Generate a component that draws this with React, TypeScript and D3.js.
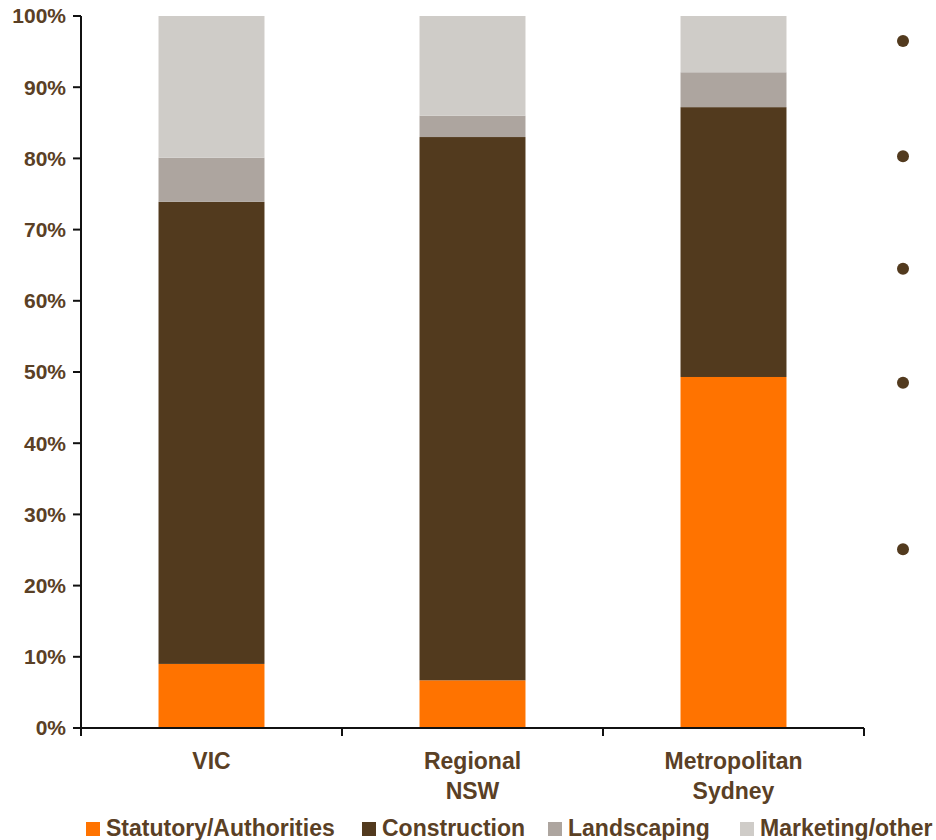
import React, { useEffect, useRef } from "react";
import * as d3 from "d3";

const categories = [["VIC"], ["Regional", "NSW"], ["Metropolitan", "Sydney"]];
const seriesNames = ["Statutory/Authorities", "Construction", "Landscaping", "Marketing/other"];
const seriesColors = ["#ff7300", "#523a1e", "#ada59f", "#cfccc8"];
const statutory = [9.0, 6.7, 49.3];
const construction = [64.9, 76.3, 37.9];
const landscaping = [6.2, 3.0, 4.9];
const marketing = [19.9, 14.0, 7.9];
const yTicks = [0, 10, 20, 30, 40, 50, 60, 70, 80, 90, 100];
// stray bullet dots on the right edge of the original slide
const bulletDots = [96.5, 80.3, 64.5, 48.5, 25.1];

const textColor = "#5a4025";
const font = "'Liberation Sans', Arial, sans-serif";

const App = () => {
    const ref = useRef<SVGSVGElement>(null);

    useEffect(() => {
        const svg = d3.select(ref.current);
        svg.selectAll("*").remove();

        const left = 81, right = 864, top = 16, bottom = 728;

        const x = d3.scaleBand<number>()
            .domain([0, 1, 2])
            .range([left, right])
            .paddingInner(0.594)
            .paddingOuter(0.297);

        const y = d3.scaleLinear().domain([0, 100]).range([bottom, top]);

        const rows = categories.map((c, i) => ({
            key: i,
            s0: statutory[i],
            s1: construction[i],
            s2: landscaping[i],
            s3: marketing[i],
        }));
        const stack = d3.stack<any>().keys(["s0", "s1", "s2", "s3"]);
        const layers = stack(rows);

        const g = svg.append("g");
        layers.forEach((layer, li) => {
            g.selectAll(null)
                .data(layer)
                .enter()
                .append("rect")
                .attr("x", (d: any) => x(d.data.key)!)
                .attr("width", x.bandwidth())
                .attr("y", d => y(d[1]))
                .attr("height", d => y(d[0]) - y(d[1]))
                .attr("fill", seriesColors[li]);
        });

        // y axis
        svg.append("line")
            .attr("x1", left).attr("x2", left)
            .attr("y1", top).attr("y2", bottom)
            .attr("stroke", "#111").attr("stroke-width", 2);
        yTicks.forEach(t => {
            svg.append("line")
                .attr("x1", left - 8).attr("x2", left)
                .attr("y1", y(t)).attr("y2", y(t))
                .attr("stroke", "#111").attr("stroke-width", 2);
            svg.append("text")
                .attr("x", left - 15)
                .attr("y", y(t))
                .attr("dy", "0.35em")
                .attr("text-anchor", "end")
                .attr("font-family", font)
                .attr("font-weight", "bold")
                .attr("font-size", 21)
                .attr("fill", textColor)
                .text(t + "%");
        });

        // x axis
        svg.append("line")
            .attr("x1", left - 8).attr("x2", right)
            .attr("y1", bottom).attr("y2", bottom)
            .attr("stroke", "#111").attr("stroke-width", 2);
        const step = x.step();
        d3.range(4).forEach(i => {
            const xx = left + i * step;
            svg.append("line")
                .attr("x1", xx).attr("x2", xx)
                .attr("y1", bottom).attr("y2", bottom + 8)
                .attr("stroke", "#111").attr("stroke-width", 2);
        });

        categories.forEach((lines, i) => {
            const cx = x(i)! + x.bandwidth() / 2;
            lines.forEach((ln, j) => {
                svg.append("text")
                    .attr("x", cx)
                    .attr("y", 769 + j * 30)
                    .attr("text-anchor", "middle")
                    .attr("font-family", font)
                    .attr("font-weight", "bold")
                    .attr("font-size", 23)
                    .attr("fill", textColor)
                    .text(ln);
            });
        });

        // bullet dots
        svg.selectAll(null)
            .data(bulletDots)
            .enter()
            .append("circle")
            .attr("cx", 903)
            .attr("cy", d => y(d))
            .attr("r", 6)
            .attr("fill", "#523a1e");

        // legend
        const legendX = [86, 362, 548, 740];
        seriesNames.forEach((name, i) => {
            svg.append("rect")
                .attr("x", legendX[i]).attr("y", 822)
                .attr("width", 14).attr("height", 14)
                .attr("fill", seriesColors[i]);
            svg.append("text")
                .attr("x", legendX[i] + 20)
                .attr("y", 836)
                .attr("font-family", font)
                .attr("font-weight", "bold")
                .attr("font-size", 23)
                .attr("fill", textColor)
                .text(name);
        });
    }, []);

    return (
        <svg ref={ref} width={936} height={840}
            style={{ position: "absolute", left: 0, top: 0, display: "block" }} />
    );
};

export default App;
